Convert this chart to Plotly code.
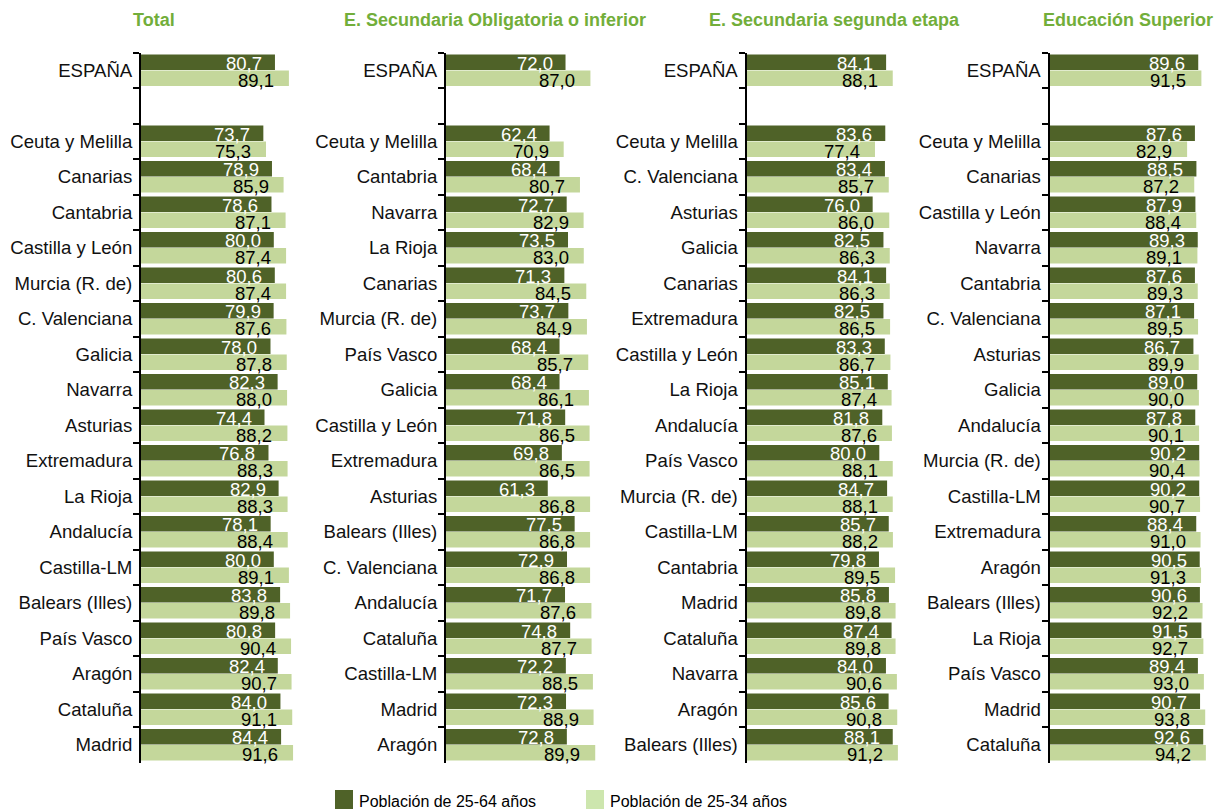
import plotly.graph_objects as go

W, H = 1217, 809

# --- Data: share of population, by education level and region ---
total_names = ["ESPAÑA", "Ceuta y Melilla", "Canarias", "Cantabria", "Castilla y León",
               "Murcia (R. de)", "C. Valenciana", "Galicia", "Navarra", "Asturias",
               "Extremadura", "La Rioja", "Andalucía", "Castilla-LM", "Balears (Illes)",
               "País Vasco", "Aragón", "Cataluña", "Madrid"]
total_25_64 = [80.7, 73.7, 78.9, 78.6, 80.0, 80.6, 79.9, 78.0, 82.3, 74.4,
               76.8, 82.9, 78.1, 80.0, 83.8, 80.8, 82.4, 84.0, 84.4]
total_25_34 = [89.1, 75.3, 85.9, 87.1, 87.4, 87.4, 87.6, 87.8, 88.0, 88.2,
               88.3, 88.3, 88.4, 89.1, 89.8, 90.4, 90.7, 91.1, 91.6]

eso_names = ["ESPAÑA", "Ceuta y Melilla", "Cantabria", "Navarra", "La Rioja",
             "Canarias", "Murcia (R. de)", "País Vasco", "Galicia", "Castilla y León",
             "Extremadura", "Asturias", "Balears (Illes)", "C. Valenciana", "Andalucía",
             "Cataluña", "Castilla-LM", "Madrid", "Aragón"]
eso_25_64 = [72.0, 62.4, 68.4, 72.7, 73.5, 71.3, 73.7, 68.4, 68.4, 71.8,
             69.8, 61.3, 77.5, 72.9, 71.7, 74.8, 72.2, 72.3, 72.8]
eso_25_34 = [87.0, 70.9, 80.7, 82.9, 83.0, 84.5, 84.9, 85.7, 86.1, 86.5,
             86.5, 86.8, 86.8, 86.8, 87.6, 87.7, 88.5, 88.9, 89.9]

sec2_names = ["ESPAÑA", "Ceuta y Melilla", "C. Valenciana", "Asturias", "Galicia",
              "Canarias", "Extremadura", "Castilla y León", "La Rioja", "Andalucía",
              "País Vasco", "Murcia (R. de)", "Castilla-LM", "Cantabria", "Madrid",
              "Cataluña", "Navarra", "Aragón", "Balears (Illes)"]
sec2_25_64 = [84.1, 83.6, 83.4, 76.0, 82.5, 84.1, 82.5, 83.3, 85.1, 81.8,
              80.0, 84.7, 85.7, 79.8, 85.8, 87.4, 84.0, 85.6, 88.1]
sec2_25_34 = [88.1, 77.4, 85.7, 86.0, 86.3, 86.3, 86.5, 86.7, 87.4, 87.6,
              88.1, 88.1, 88.2, 89.5, 89.8, 89.8, 90.6, 90.8, 91.2]

sup_names = ["ESPAÑA", "Ceuta y Melilla", "Canarias", "Castilla y León", "Navarra",
             "Cantabria", "C. Valenciana", "Asturias", "Galicia", "Andalucía",
             "Murcia (R. de)", "Castilla-LM", "Extremadura", "Aragón", "Balears (Illes)",
             "La Rioja", "País Vasco", "Madrid", "Cataluña"]
sup_25_64 = [89.6, 87.6, 88.5, 87.9, 89.3, 87.6, 87.1, 86.7, 89.0, 87.8,
             90.2, 90.2, 88.4, 90.5, 90.6, 91.5, 89.4, 90.7, 92.6]
sup_25_34 = [91.5, 82.9, 87.2, 88.4, 89.1, 89.3, 89.5, 89.9, 90.0, 90.1,
             90.4, 90.7, 91.0, 91.3, 92.2, 92.7, 93.0, 93.8, 94.2]

panel_titles = ["Total", "E. Secundaria Obligatoria o inferior",
                "E. Secundaria segunda etapa", "Educación Superior"]
series_names = ["Población de 25-64 años", "Población de 25-34 años"]

panels = [
    (total_names, total_25_64, total_25_34),
    (eso_names, eso_25_64, eso_25_34),
    (sec2_names, sec2_25_64, sec2_25_34),
    (sup_names, sup_25_64, sup_25_34),
]

# --- Styling ---
FONT = "Liberation Sans, Arial, sans-serif"
DARK = "#4F6228"
LIGHT = "#C4D79B"
LEGEND_LIGHT = "#CDE6AE"
TITLE_GREEN = "#72AE3A"

# horizontal extent of each panel's plotting area (pixels)
x_px = [(141, 307), (446, 612), (746.5, 912.5), (1049.5, 1215.5)]
title_x_px = [154, 494.5, 834.5, 1128]
y_top_px, y_bot_px = 52.5, 762.5
y_domain = [1 - y_bot_px / H, 1 - y_top_px / H]


def fmt(v):
    return f"{v:.1f}".replace(".", ",")


fig = go.Figure()
annotations = []
layout_axes = {}

for i, (names, v_old, v_young) in enumerate(panels):
    sfx = "" if i == 0 else str(i + 1)
    cats = [names[0], " "] + names[1:]
    old_vals = [v_old[0], None] + v_old[1:]
    young_vals = [v_young[0], None] + v_young[1:]

    fig.add_trace(go.Bar(y=cats, x=old_vals, orientation="h", name=series_names[0],
                         marker=dict(color=DARK, line=dict(width=0)),
                         xaxis="x" + sfx, yaxis="y" + sfx, showlegend=False))
    fig.add_trace(go.Bar(y=cats, x=young_vals, orientation="h", name=series_names[1],
                         marker=dict(color=LIGHT, line=dict(width=0)),
                         xaxis="x" + sfx, yaxis="y" + sfx, showlegend=False))

    # value labels at the inner end of each bar
    for c, a, b in zip(cats, old_vals, young_vals):
        if a is None:
            continue
        annotations.append(dict(x=a, y=c, xref="x" + sfx, yref="y" + sfx,
                                text=fmt(a), showarrow=False, xanchor="right",
                                yanchor="middle", xshift=-11, yshift=7,
                                font=dict(family=FONT, size=18.5, color="white")))
        annotations.append(dict(x=b, y=c, xref="x" + sfx, yref="y" + sfx,
                                text=fmt(b), showarrow=False, xanchor="right",
                                yanchor="middle", xshift=-13, yshift=-10,
                                font=dict(family=FONT, size=18.5, color="black")))

    x0, x1 = x_px[i]
    layout_axes["xaxis" + sfx] = dict(domain=[x0 / W, x1 / W], range=[0, 100],
                                      anchor="y" + sfx, visible=False, fixedrange=True)
    layout_axes["yaxis" + sfx] = dict(domain=y_domain, anchor="x" + sfx,
                                      categoryorder="array", categoryarray=cats,
                                      range=[len(cats) - 0.5, -0.5],
                                      showline=True, linecolor="black", linewidth=2,
                                      ticks="outside", ticklen=6, tickwidth=1.5,
                                      tickcolor="black", tickson="boundaries",
                                      ticklabelstandoff=3,
                                      tickfont=dict(family=FONT, size=18.6, color="#111111"),
                                      showgrid=False, zeroline=False, fixedrange=True)

    annotations.append(dict(x=title_x_px[i] / W, y=1 - 20 / H, xref="paper", yref="paper",
                            text="<b>" + panel_titles[i] + "</b>", showarrow=False,
                            xanchor="center", yanchor="middle",
                            font=dict(family=FONT, size=18, color=TITLE_GREEN)))

# legend drawn as swatches + text along the bottom edge
legend_items = [(335, 357, DARK), (586, 608, LEGEND_LIGHT)]
shapes = []
for (sx, tx, col), label in zip(legend_items, series_names):
    shapes.append(dict(type="rect", xref="paper", yref="paper",
                       x0=sx / W, x1=(sx + 18) / W, y0=1 - 810 / H, y1=1 - 790 / H,
                       fillcolor=col, line=dict(width=0)))
    annotations.append(dict(x=tx / W, y=1 - 801 / H, xref="paper", yref="paper",
                            text=label, showarrow=False, xanchor="left", yanchor="middle",
                            font=dict(family=FONT, size=16, color="black")))

fig.update_layout(
    width=W, height=H,
    margin=dict(l=0, r=0, t=0, b=0),
    paper_bgcolor="white", plot_bgcolor="white",
    barmode="group", bargap=0.1, bargroupgap=0.04,
    font=dict(family=FONT, size=18, color="black"),
    annotations=annotations, shapes=shapes,
    showlegend=False,
    **layout_axes,
)

fig.write_html("out.html")
